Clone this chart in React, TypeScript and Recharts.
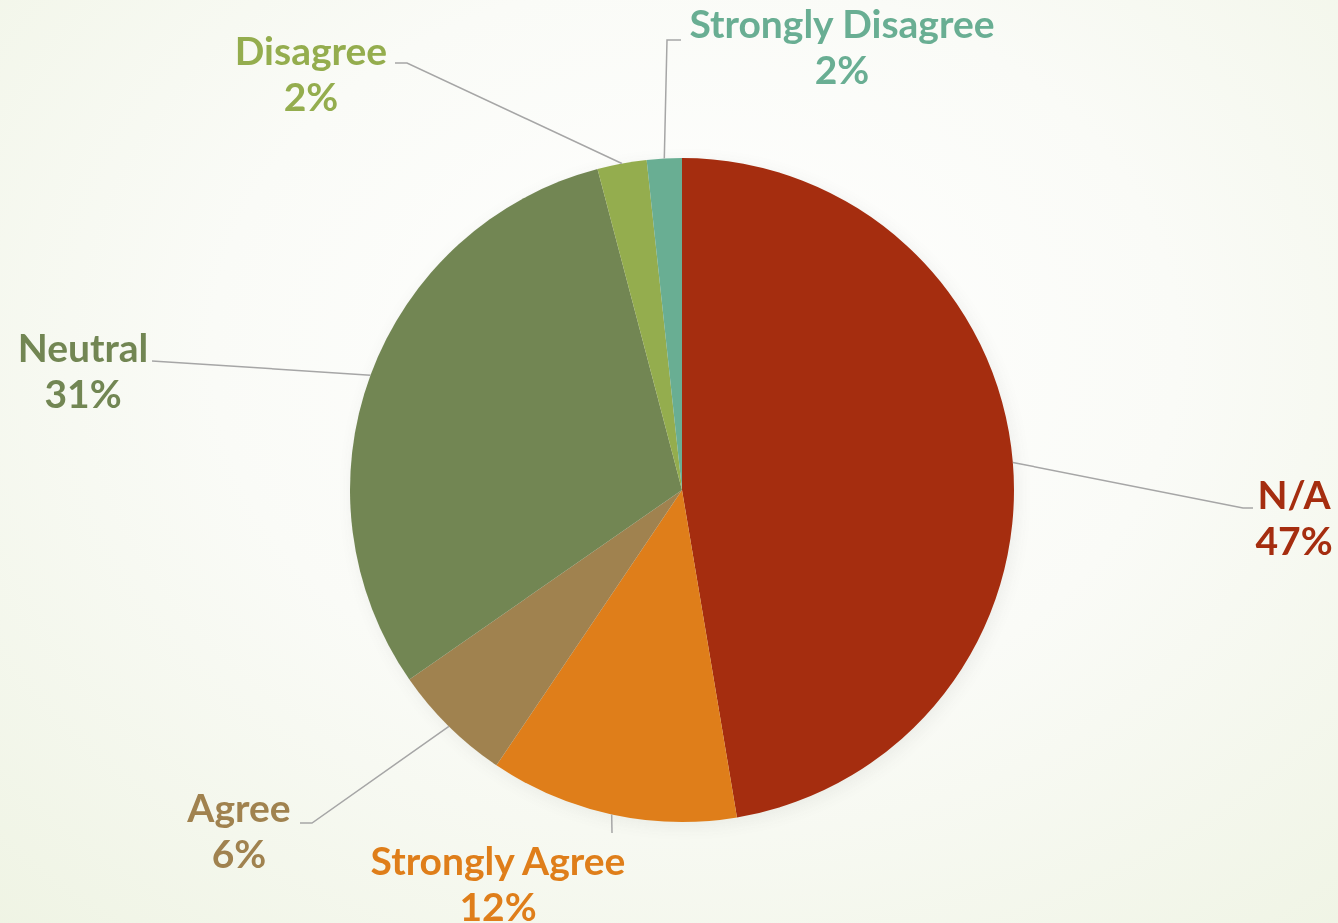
import React from "react";
import { PieChart, Pie, Cell } from "recharts";

const categories = ["N/A", "Strongly Agree", "Agree", "Neutral", "Disagree", "Strongly Disagree"];
const shares = [47.4, 12.1, 5.9, 30.6, 2.4, 1.7];
const colors = ["#a52d0f", "#df7e1a", "#a0824f", "#728653", "#94ad4e", "#69ae93"];

// leader line bends and text centre, offsets from the pie centre
const labelLayout = [
  { path: [[561, 18], [571, 18]], text: [612, 19] },
  { path: [[-70, 343]], text: [-184, 385] },
  { path: [[-370, 333], [-382, 333]], text: [-443, 332] },
  { path: [[-530, -129]], text: [-599, -128] },
  { path: [[-275, -427], [-287, -427]], text: [-371, -425] },
  { path: [[-15, -450], [-1, -450]], text: [160, -452] },
];

const data = categories.map((name, i) => ({ name, value: shares[i] }));

const RADIAN = Math.PI / 180;

function renderLabel(props: any) {
  const { cx, cy, midAngle, outerRadius, percent, index } = props;
  const layout = labelLayout[index];
  const sx = cx + outerRadius * Math.cos(-midAngle * RADIAN);
  const sy = cy + outerRadius * Math.sin(-midAngle * RADIAN);
  const pts = [[sx, sy], ...layout.path.map(([dx, dy]) => [cx + dx, cy + dy])];
  const tx = cx + layout.text[0];
  const ty = cy + layout.text[1];
  return (
    <g key={`label-${index}`}>
      <polyline
        points={pts.map((p) => p.join(",")).join(" ")}
        fill="none"
        stroke="#a6a6a6"
        strokeWidth={1.5}
      />
      <text
        x={tx}
        y={ty}
        textAnchor="middle"
        fill={colors[index]}
        fontFamily="Lato"
        fontWeight={700}
        fontSize={39}
      >
        <tspan x={tx} dy={0}>{categories[index]}</tspan>
        <tspan x={tx} dy={46}>{Math.round(percent * 100)}%</tspan>
      </text>
    </g>
  );
}

export default function App() {
  return (
    <div
      style={{
        position: "fixed",
        top: 0,
        left: 0,
        width: 1338,
        height: 923,
        overflow: "hidden",
        background:
          "radial-gradient(ellipse 80% 90% at 52% 38%, #ffffff 0%, #fafbf7 45%, #eef3e2 100%)",
      }}
    >
      <style>{`.pie-shadow { filter: blur(6px); opacity: 0.28; }`}</style>
      <PieChart width={1338} height={923} margin={{ top: 0, right: 0, bottom: 0, left: 0 }}>
        <Pie
          className="pie-shadow"
          data={data}
          dataKey="value"
          cx={685}
          cy={494}
          outerRadius={333}
          startAngle={90}
          endAngle={-270}
          stroke="none"
          fill="#555"
          isAnimationActive={false}
          label={false}
          labelLine={false}
        />
        <Pie
          data={data}
          dataKey="value"
          cx={682}
          cy={490}
          outerRadius={332}
          startAngle={90}
          endAngle={-270}
          stroke="none"
          isAnimationActive={false}
          label={renderLabel}
          labelLine={false}
        >
          {data.map((d, i) => (
            <Cell key={d.name} fill={colors[i]} />
          ))}
        </Pie>
      </PieChart>
    </div>
  );
}
